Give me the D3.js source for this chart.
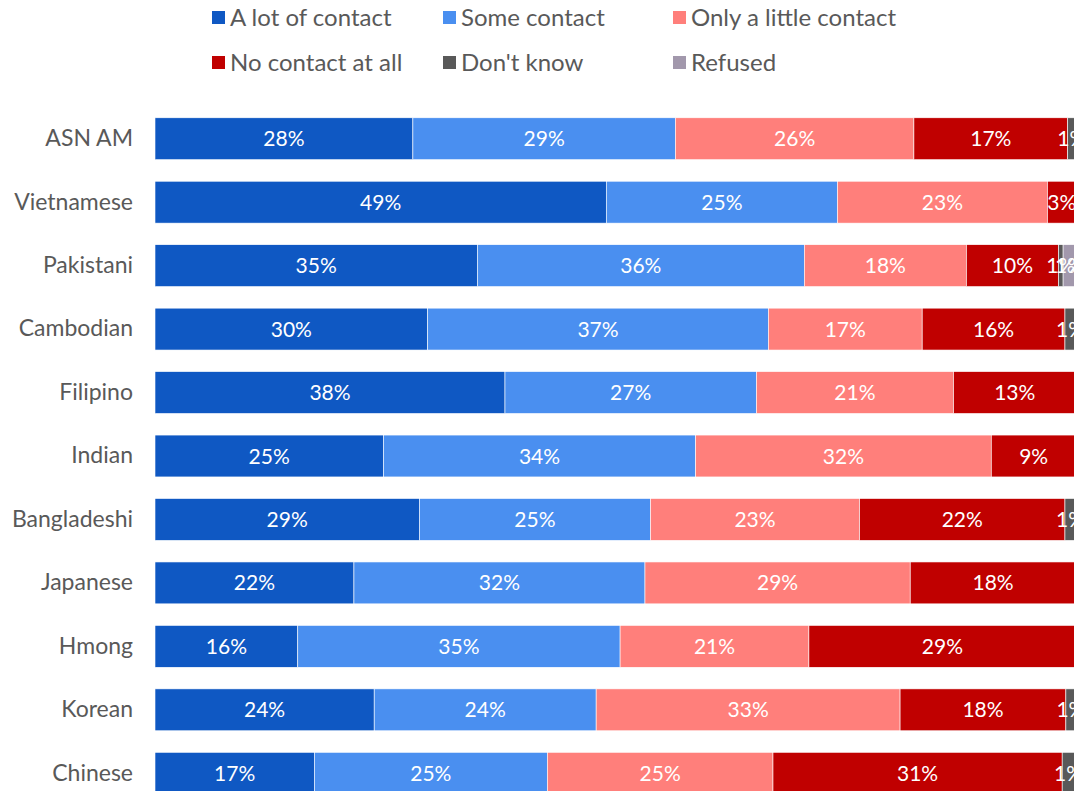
<!DOCTYPE html>
<html>
<head>
<meta charset="utf-8">
<script src="https://cdn.jsdelivr.net/npm/d3@7"></script>
<style>
  body { margin: 0; background: #fff; }
  svg { display: block; font-family: "Lato", "Open Sans", sans-serif; }
</style>
</head>
<body>
<div id="chart"></div>
<script>
// categories, top to bottom
var groups = ["ASN AM", "Vietnamese", "Pakistani", "Cambodian", "Filipino", "Indian",
              "Bangladeshi", "Japanese", "Hmong", "Korean", "Chinese"];

var series = ["A lot of contact", "Some contact", "Only a little contact",
              "No contact at all", "Don't know", "Refused"];

// percent values per series, same order as groups
var aLot       = [28.0, 49.0, 35.0, 29.6, 38.0, 24.8, 28.7, 21.6, 15.5, 23.8, 17.3];
var some       = [28.5, 25.1, 35.5, 37.0, 27.3, 33.9, 25.1, 31.6, 35.0, 24.1, 25.3];
var onlyLittle = [25.9, 22.8, 17.6, 16.7, 21.4, 32.1, 22.7, 28.8, 20.5, 33.0, 24.5];
var noContact  = [16.7,  3.1, 10.0, 15.5, 13.3,  9.2, 22.3, 18.0, 29.0, 18.0, 31.4];
var dontKnow   = [ 0.9,  0,    0.5,  1.2,  0,    0,    1.2,  0,    0,    1.1,  1.4];
var refused    = [ 0,    0,    1.4,  0,    0,    0,    0,    0,    0,    0,    0  ];

var colors = ["#0F58C3", "#4A8FF0", "#FF7F7B", "#C00000", "#595959", "#A298AC"];

var width = 1074, height = 791;

var rows = groups.map(function(g, i) {
  return { group: g, vals: [aLot[i], some[i], onlyLittle[i], noContact[i], dontKnow[i], refused[i]] };
});

var svg = d3.select("#chart")
  .append("svg")
  .attr("width", width)
  .attr("height", height);

// scales (the plot runs slightly past the right edge, as in the original crop)
var x = d3.scaleLinear().domain([0, 100]).range([155, 1076]);
var y = d3.scaleBand().domain(groups).range([107, 805])
  .paddingInner(0.34).paddingOuter(0.17);

// stack the segments
var segs = [];
rows.forEach(function(r) {
  var acc = 0;
  r.vals.forEach(function(v, k) {
    segs.push({ group: r.group, k: k, v: v, x0: acc, x1: acc + v });
    acc += v;
  });
});

svg.append("g").selectAll("rect")
  .data(segs.filter(function(d) { return d.v > 0; }))
  .enter()
  .append("rect")
  .attr("x", function(d) { return x(d.x0); })
  .attr("y", function(d) { return y(d.group); })
  .attr("width", function(d) { return x(d.x1) - x(d.x0); })
  .attr("height", y.bandwidth())
  .attr("fill", function(d) { return colors[d.k]; })
  .attr("stroke", "#fff")
  .attr("stroke-width", 0.6);

// value labels
svg.append("g").selectAll("text")
  .data(segs.filter(function(d) { return d.v > 0; }))
  .enter()
  .append("text")
  .attr("x", function(d) { return (x(d.x0) + x(d.x1)) / 2; })
  .attr("y", function(d) { return y(d.group) + y.bandwidth() / 2; })
  .attr("dy", "0.36em")
  .attr("text-anchor", "middle")
  .attr("fill", "#fff")
  .style("font-size", "21px")
  .text(function(d) { return Math.round(d.v) + "%"; });

// category axis
var yAxis = svg.append("g")
  .attr("transform", "translate(" + 155 + ",0)")
  .call(d3.axisLeft(y).tickSize(0).tickPadding(22));
yAxis.select(".domain").remove();
yAxis.selectAll("text")
  .attr("fill", "#595959")
  .style("font-family", "Lato, sans-serif")
  .style("font-size", "23px");

// legend
var legX = [212, 443, 673];
var legY = [17, 62];
var legend = svg.append("g").selectAll("g")
  .data(series)
  .enter()
  .append("g")
  .attr("transform", function(d, i) {
    return "translate(" + legX[i % 3] + "," + legY[Math.floor(i / 3)] + ")";
  });

legend.append("rect")
  .attr("x", 0)
  .attr("y", -6)
  .attr("width", 13)
  .attr("height", 13)
  .attr("fill", function(d, i) { return colors[i]; });

legend.append("text")
  .attr("x", 18)
  .attr("y", 0)
  .attr("dy", "0.36em")
  .attr("fill", "#595959")
  .style("font-size", "24px")
  .text(function(d) { return d; });
</script>
</body>
</html>
